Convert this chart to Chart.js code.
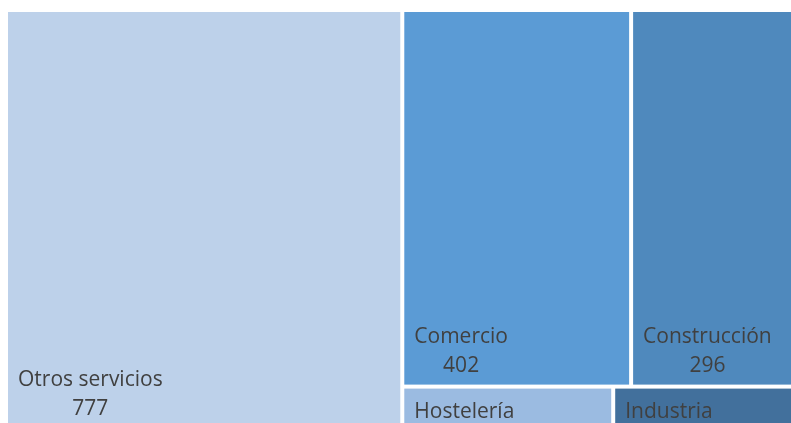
<!DOCTYPE html>
<html>
<head>
<meta charset="utf-8">
<script src="https://cdn.jsdelivr.net/npm/chart.js@4.4.1/dist/chart.umd.min.js"></script>
<style>
  html, body { margin: 0; padding: 0; background: #fff; overflow: hidden; }
  #wrap { width: 791px; height: 423px; }
</style>
</head>
<body>
<div id="wrap"><canvas id="c" width="791" height="423"></canvas></div>
<script>
const sectors = ['Otros servicios', 'Comercio', 'Construcción', 'Hostelería', 'Industria'];
const counts = [777, 402, 296, 43, 38];
const sectorColors = ['#bdd1ea', '#5b9bd5', '#4f89bd', '#9bbbe1', '#42709c'];

// ─── Layout ────────────────────────────────────────
// whole treemap in layout units; the window only shows its top-left part
const TREE_W = 793.6;
const TREE_H = 420.3;
const TOL = 1.25;

function worst(row, side, scale) {
  const s = row.reduce((a, b) => a + b, 0) * scale;
  let max = 0;
  row.forEach((v) => {
    const a = v * scale;
    const r = Math.max((side * side * a) / (s * s), (s * s) / (side * side * a));
    if (r > max) max = r;
  });
  return max;
}

function squarify(values, rect) {
  const total = values.reduce((a, b) => a + b, 0);
  const scale = (rect.w * rect.h) / total;
  const out = [];
  let { x, y, w, h } = rect;
  let i = 0;
  while (i < values.length) {
    const side = Math.min(w, h);
    const row = [values[i]];
    let j = i + 1;
    while (j < values.length) {
      if (worst(row.concat(values[j]), side, scale) > worst(row, side, scale) * TOL) break;
      row.push(values[j]);
      j++;
    }
    const thick = (row.reduce((a, b) => a + b, 0) * scale) / side;
    let off = 0;
    row.forEach((v) => {
      const len = (v * scale) / thick;
      if (w >= h) out.push({ x, y: y + off, w: thick, h: len });
      else out.push({ x: x + off, y, w: len, h: thick });
      off += len;
    });
    if (w >= h) { x += thick; w -= thick; } else { y += thick; h -= thick; }
    i = j;
  }
  return out;
}

const cells = squarify(counts, { x: 0, y: 0, w: TREE_W, h: TREE_H });

// ─── Draw ──────────────────────────────────────────
const GAP = 2;
const PAD_X = 10;
const PAD_Y = 13;
const LINE = 29;
const FONT = '21px "Open Sans", sans-serif';

const treemapPlugin = {
  id: 'treemap',
  beforeDatasetsDraw(chart) {
    const { ctx, chartArea, scales: { x: xs, y: ys } } = chart;
    ctx.save();
    ctx.beginPath();
    ctx.rect(chartArea.left, chartArea.top, chartArea.width, chartArea.height);
    ctx.clip();
    ctx.font = FONT;
    const capH = ctx.measureText('H').actualBoundingBoxAscent;

    cells.forEach((c, i) => {
      const left = xs.getPixelForValue(c.x) + GAP;
      const right = xs.getPixelForValue(c.x + c.w) - GAP;
      const top = ys.getPixelForValue(c.y) + GAP;
      const bottom = ys.getPixelForValue(c.y + c.h) - GAP;
      ctx.fillStyle = sectorColors[i];
      ctx.fillRect(left, top, right - left, bottom - top);

      ctx.save();
      ctx.beginPath();
      ctx.rect(left, top, right - left, bottom - top);
      ctx.clip();
      ctx.fillStyle = '#404040';
      ctx.textBaseline = 'alphabetic';
      const nameW = ctx.measureText(sectors[i]).width;
      let valueBase = bottom - PAD_Y;
      let nameBase = valueBase - LINE;
      if (nameBase - capH < top + PAD_Y) {
        nameBase = top + PAD_Y + capH;
        valueBase = nameBase + LINE;
      }
      ctx.textAlign = 'left';
      ctx.fillText(sectors[i], left + PAD_X, nameBase);
      ctx.textAlign = 'center';
      ctx.fillText(String(counts[i]), left + PAD_X + nameW / 2, valueBase);
      ctx.restore();
    });
    ctx.restore();
  },
};

new Chart(document.getElementById('c'), {
  type: 'scatter',
  data: {
    datasets: [{
      data: cells.map((c, i) => ({ x: c.x + c.w / 2, y: c.y + c.h / 2, v: counts[i] })),
      pointRadius: 0,
    }],
  },
  options: {
    responsive: false,
    animation: false,
    layout: { padding: 0 },
    plugins: { legend: { display: false }, tooltip: { enabled: false } },
    scales: {
      x: { type: 'linear', min: -6, max: 785, display: false },
      y: { type: 'linear', min: -10, max: 413, reverse: true, display: false },
    },
  },
  plugins: [treemapPlugin],
});
</script>
</body>
</html>
